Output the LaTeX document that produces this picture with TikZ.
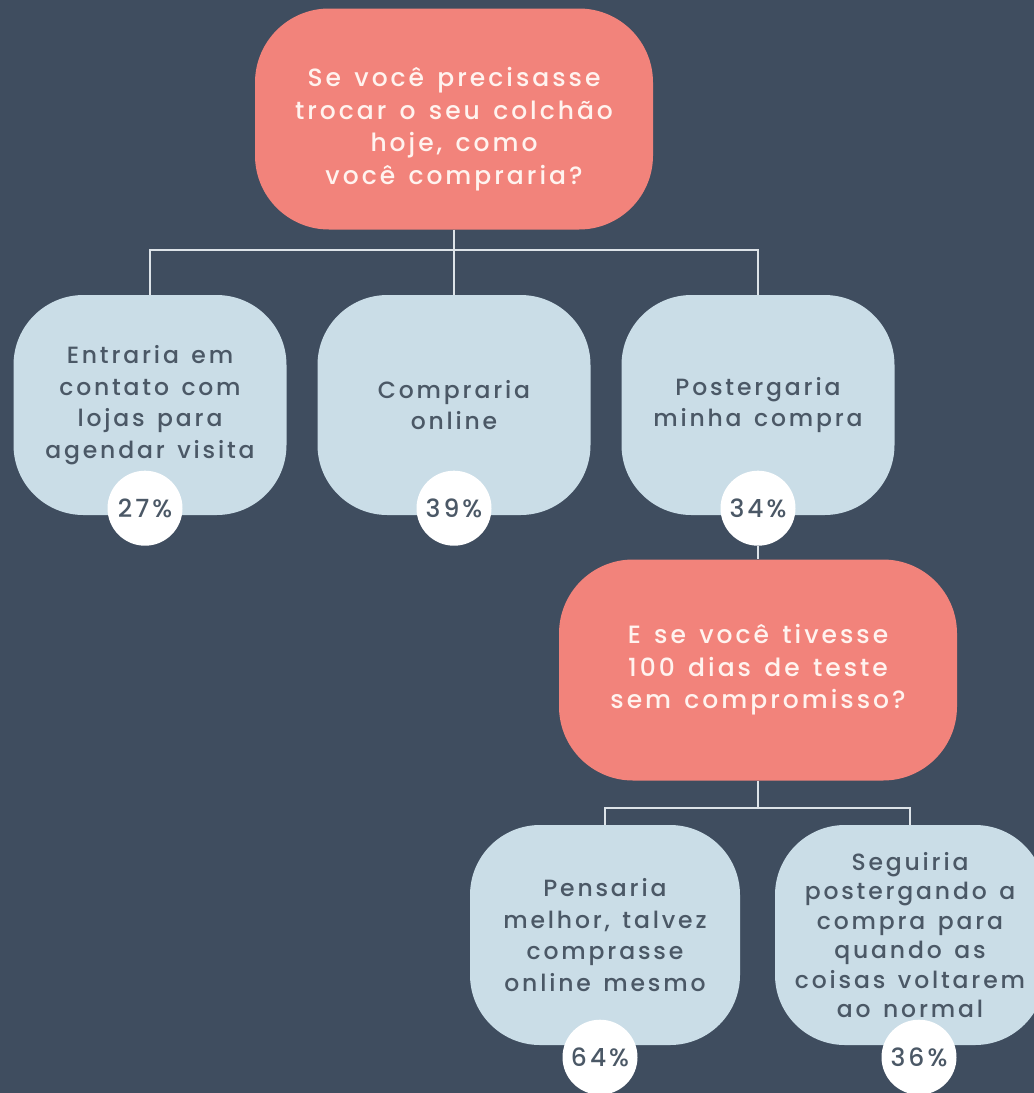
\documentclass[tikz,border=0pt]{standalone}
\usepackage{fontspec}
\setmainfont{Poppins Medium}[LetterSpace=12, WordSpace=1.4]
\definecolor{bgslate}{HTML}{3F4D5F}
\definecolor{qsalmon}{HTML}{F2837B}
\definecolor{ablue}{HTML}{CADDE7}
\definecolor{txtdark}{HTML}{4B5866}
\definecolor{txtlight}{HTML}{FFF3EF}
\definecolor{linkgrey}{HTML}{DDE3E8}

\begin{document}
\begin{tikzpicture}[
    x=1pt, y=-1pt,
    qbox/.style = {rectangle, rounded corners=74pt, fill=qsalmon, text=txtlight,
                   minimum width=398pt, minimum height=221pt, align=center,
                   font=\fontsize{25}{32.5}\selectfont, inner sep=0pt},
    abox/.style = {rectangle, rounded corners=70pt, fill=ablue, text=txtdark,
                   minimum width=273pt, minimum height=220pt, align=center,
                   font=\fontsize{23.5}{31.5}\selectfont, inner sep=0pt},
    pct/.style  = {circle, fill=white, text=txtdark, minimum size=75pt,
                   font=\fontsize{25}{25}\selectfont, inner sep=0pt},
    link/.style = {draw=linkgrey, line width=1.5pt},
]

%% ── Canvas ───────────────────────────────────────────────────────────────────
\useasboundingbox (0,0) rectangle (1034,1093);
\fill[bgslate] (0,0) rectangle (1034,1093);
\clip (0,0) rectangle (1034,1093);

%% ── Questions ────────────────────────────────────────────────────────────────
% text of the first question sits a little low in its box
\node[qbox] (q1) at (454,119)
     {\raisebox{-10pt}[\height][\depth]{\begin{tabular}{@{}c@{}}
        Se você precisasse\\trocar o seu colchão\\hoje, como\\você compraria?
      \end{tabular}}};
\node[qbox] (q2) at (758,670) {E se você tivesse\\100 dias de teste\\sem compromisso?};

%% ── Answers ──────────────────────────────────────────────────────────────────
\node[abox] (a1) at (150,405) {Entraria em\\contato com\\lojas para\\agendar visita};
\node[abox] (a2) at (454,405) {Compraria\\online};
\node[abox] (a3) at (758,405) {Postergaria\\minha compra};

\node[abox, minimum width=270pt] (b1) at (605,935)
     {Pensaria\\melhor, talvez\\comprasse\\online mesmo};
\node[abox, minimum width=270pt, font=\fontsize{23.5}{29.5}\selectfont] (b2) at (910,935)
     {Seguiria\\postergando a\\compra para\\quando as\\coisas voltarem\\ao normal};

%% ── Shares ───────────────────────────────────────────────────────────────────
\node[pct] (p1) at ([xshift=-5pt, yshift=7pt]a1.south) {27\%};
\node[pct] (p2) at ([yshift=7pt]a2.south) {39\%};
\node[pct] (p3) at ([yshift=7pt]a3.south) {34\%};
\node[pct] (p4) at ([xshift=-5pt, yshift=-12pt]b1.south) {64\%};
\node[pct] (p5) at ([xshift=9pt, yshift=-12pt]b2.south) {36\%};

%% ── Links ────────────────────────────────────────────────────────────────────
\coordinate (j1) at (454,250);
\draw[link] (q1.south) -- (j1);
\draw[link] (j1) -| (a1.north);
\draw[link] (j1) -- (a2.north);
\draw[link] (j1) -| (a3.north);

\draw[link] (p3.south) -- (q2.north);

\coordinate (j2) at (758,808);
\draw[link] (q2.south) -- (j2);
\draw[link] (j2) -| (b1.north);
\draw[link] (j2) -| (b2.north);

\end{tikzpicture}
\end{document}
